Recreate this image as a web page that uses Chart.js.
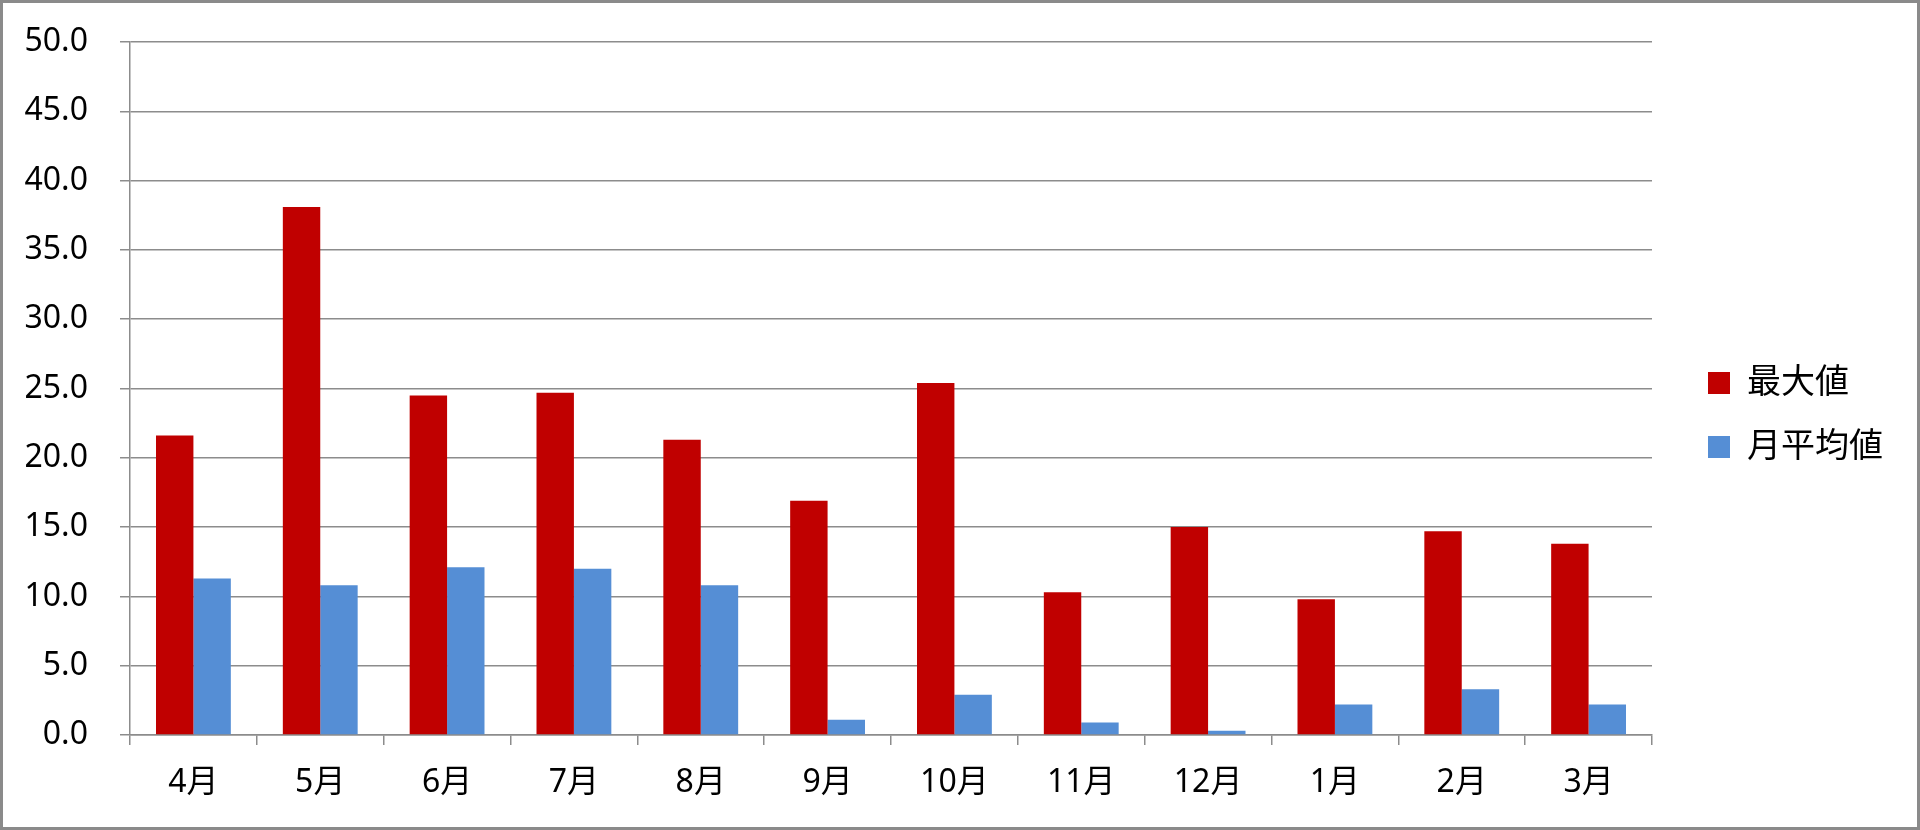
<!DOCTYPE html>
<html>
<head>
<meta charset="utf-8">
<title>最大値・月平均値</title>
<script src="https://cdn.jsdelivr.net/npm/chart.js@4.4.1/dist/chart.umd.min.js"></script>
<style>
  html, body { margin: 0; padding: 0; background: #fff; }
  #chart { display: block; }
</style>
</head>
<body>
<canvas id="chart" width="1920" height="830"></canvas>
<script>
// data
const months = ['4月', '5月', '6月', '7月', '8月', '9月', '10月', '11月', '12月', '1月', '2月', '3月'];
const maxValues = [21.6, 38.1, 24.5, 24.7, 21.3, 16.9, 25.4, 10.3, 15.0, 9.8, 14.7, 13.8];
const avgValues = [11.3, 10.8, 12.1, 12.0, 10.8, 1.1, 2.9, 0.9, 0.3, 2.2, 3.3, 2.2];
const seriesNames = ['最大値', '月平均値'];
const yTicks = { min: 0, max: 50, step: 5 };

const gridColor = '#8c8c8c';
Chart.defaults.font.family = "'Noto Sans', 'Noto Sans CJK JP', sans-serif";
Chart.defaults.color = '#000';

// white background and grey frame around the whole picture
const framePlugin = {
  id: 'frame',
  beforeDraw(chart) {
    const ctx = chart.ctx;
    ctx.save();
    ctx.fillStyle = '#fff';
    ctx.fillRect(0, 0, chart.width, chart.height);
    ctx.restore();
  },
  afterDraw(chart) {
    const ctx = chart.ctx;
    ctx.save();
    ctx.strokeStyle = '#8a8a8a';
    ctx.lineWidth = 3;
    ctx.strokeRect(1.5, 1.5, chart.width - 3, chart.height - 3);
    ctx.restore();
  }
};

const chart = new Chart(document.getElementById('chart'), {
  type: 'bar',
  data: {
    labels: months,
    datasets: [
      { label: seriesNames[0], data: maxValues, backgroundColor: '#C00000', borderWidth: 0 },
      { label: seriesNames[1], data: avgValues, backgroundColor: '#558ED5', borderWidth: 0 }
    ]
  },
  options: {
    responsive: false,
    animation: false,
    devicePixelRatio: 1,
    categoryPercentage: 0.59,
    barPercentage: 1.0,
    layout: { padding: { top: 0, left: 0, right: 27, bottom: 0 } },
    plugins: {
      tooltip: { enabled: false },
      legend: {
        position: 'right',
        labels: {
          boxWidth: 22,
          boxHeight: 22,
          padding: 30,
          font: { size: 34 }
        }
      }
    },
    scales: {
      x: {
        grid: { drawOnChartArea: false, drawTicks: true, tickLength: 10, color: gridColor, lineWidth: 1.5, offset: true },
        border: { display: true, color: gridColor, width: 1.5 },
        ticks: { font: { size: 32 }, padding: 19, maxRotation: 0 },
        afterFit(scale) { scale.height = 95; }
      },
      y: {
        min: yTicks.min,
        max: yTicks.max,
        grid: { color: gridColor, lineWidth: 1.5, tickLength: 10 },
        border: { display: true, color: gridColor, width: 1.5 },
        ticks: {
          stepSize: yTicks.step,
          font: { size: 32 },
          padding: 32,
          callback: v => v.toFixed(1)
        },
        afterFit(scale) {
          scale.width = 130;
          scale.paddingTop = 42;
          scale.paddingBottom = 20;
        }
      },
      // empty spacer between the plot and the legend
      gap: {
        position: 'right',
        display: true,
        grid: { display: false },
        border: { display: false },
        ticks: { display: false },
        afterFit(scale) { scale.width = 26; }
      }
    }
  },
  plugins: [framePlugin]
});
</script>
</body>
</html>
